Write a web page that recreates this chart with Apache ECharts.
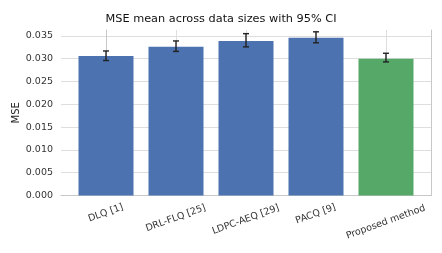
<!DOCTYPE html>
<html>
<head>
<meta charset="utf-8">
<script src="https://cdn.jsdelivr.net/npm/echarts@6/dist/echarts.min.js"></script>
<style>
  html, body { margin: 0; padding: 0; background: #fff; }
  #chart { width: 442px; height: 253px; }
</style>
</head>
<body>
<div id="chart"></div>
<script>
const methods = ['DLQ [1]', 'DRL-FLQ [25]', 'LDPC-AEQ [29]', 'PACQ [9]', 'Proposed method'];
const mseMean = [0.0306, 0.0326, 0.0339, 0.0346, 0.0300];
const ciLow = [0.0296, 0.0316, 0.0326, 0.0335, 0.0293];
const ciHigh = [0.0317, 0.0339, 0.0355, 0.0359, 0.0312];
const yTicks = [0, 0.005, 0.01, 0.015, 0.02, 0.025, 0.03, 0.035];

const barColor = '#4c72b0';
const proposedColor = '#55a868';
const gridColor = '#dedede';
const font = '"DejaVu Sans", sans-serif';
const labelSize = 9.5;
const tilt = 20 * Math.PI / 180;

// rotated x labels: shift each so its box top sits level and its centre is on the tick
const measure = document.createElement('canvas').getContext('2d');
measure.font = labelSize + 'px "DejaVu Sans"';
const rich = {};
methods.forEach((name, i) => {
  const w = measure.measureText(name).width;
  const top = (w / 2) * Math.tan(tilt);
  const right = 2 * (top + labelSize * 0.6) * Math.tan(tilt);
  rich['l' + i] = { fontSize: labelSize, fontFamily: font, color: '#333', padding: [top, right, 0, 0] };
});

const chart = echarts.init(document.getElementById('chart'), null, { renderer: 'canvas' });

chart.setOption({
  animation: false,
  title: {
    text: 'MSE mean across data sizes with 95% CI',
    left: 'center',
    top: 9,
    textStyle: { fontFamily: font, fontSize: 11.3, fontWeight: 'normal', color: '#111' }
  },
  grid: { left: 61, right: 11, top: 30, bottom: 57.5, outerBoundsMode: 'none' },
  xAxis: {
    type: 'value',
    min: -0.643,
    max: 4.643,
    axisLine: { show: true, onZero: false, lineStyle: { color: '#c8c8c8', width: 1 } },
    axisTick: { show: false },
    splitLine: { show: false },
    axisLabel: {
      customValues: [0, 1, 2, 3, 4],
      rotate: 20,
      align: 'center',
      verticalAlign: 'top',
      margin: 5,
      formatter: (v) => `{l${v}|${methods[v]}}`,
      rich
    }
  },
  yAxis: [
    {
      type: 'value',
      min: 0,
      max: 0.0363,
      interval: 0.005,
      name: 'MSE',
      nameLocation: 'middle',
      nameRotate: 90,
      nameGap: 40,
      nameMoveOverlap: false,
      nameTextStyle: { fontFamily: font, fontSize: 10, color: '#222' },
      axisLine: { show: true, lineStyle: { color: '#c8c8c8', width: 1 } },
      axisTick: { show: false },
      axisLabel: {
        customValues: yTicks,
        margin: 8,
        fontFamily: font,
        fontSize: labelSize,
        color: '#333',
        formatter: (v) => v.toFixed(3)
      },
      splitLine: { show: true, showMaxLine: false, lineStyle: { color: gridColor, width: 1 } }
    },
    {
      type: 'value',
      position: 'right',
      min: 0,
      max: 0.0363,
      axisLine: { show: true, lineStyle: { color: '#c8c8c8', width: 1 } },
      axisTick: { show: false },
      axisLabel: { show: false },
      splitLine: { show: false }
    }
  ],
  series: [
    {
      // vertical grid lines at each category, kept behind the bars
      type: 'line',
      data: [],
      z: 0,
      silent: true,
      markLine: {
        z: 0,
        silent: true,
        symbol: 'none',
        label: { show: false },
        lineStyle: { color: gridColor, width: 1, type: 'solid' },
        data: methods.map((_, i) => ({ xAxis: i }))
      }
    },
    {
      type: 'bar',
      z: 2,
      barWidth: 55,
      data: mseMean.map((v, i) => ({
        value: [i, v],
        itemStyle: { color: i === methods.length - 1 ? proposedColor : barColor }
      }))
    },
    {
      type: 'custom',
      z: 3,
      data: methods.map((_, i) => [i, ciLow[i], ciHigh[i]]),
      renderItem: (params, api) => {
        const lo = api.coord([api.value(0), api.value(1)]);
        const hi = api.coord([api.value(0), api.value(2)]);
        const cap = 3;
        const style = { stroke: '#222', lineWidth: 1.4 };
        return {
          type: 'group',
          children: [
            { type: 'line', shape: { x1: lo[0], y1: lo[1], x2: hi[0], y2: hi[1] }, style },
            { type: 'line', shape: { x1: lo[0] - cap, y1: lo[1], x2: lo[0] + cap, y2: lo[1] }, style },
            { type: 'line', shape: { x1: hi[0] - cap, y1: hi[1], x2: hi[0] + cap, y2: hi[1] }, style }
          ]
        };
      }
    }
  ]
});
</script>
</body>
</html>
